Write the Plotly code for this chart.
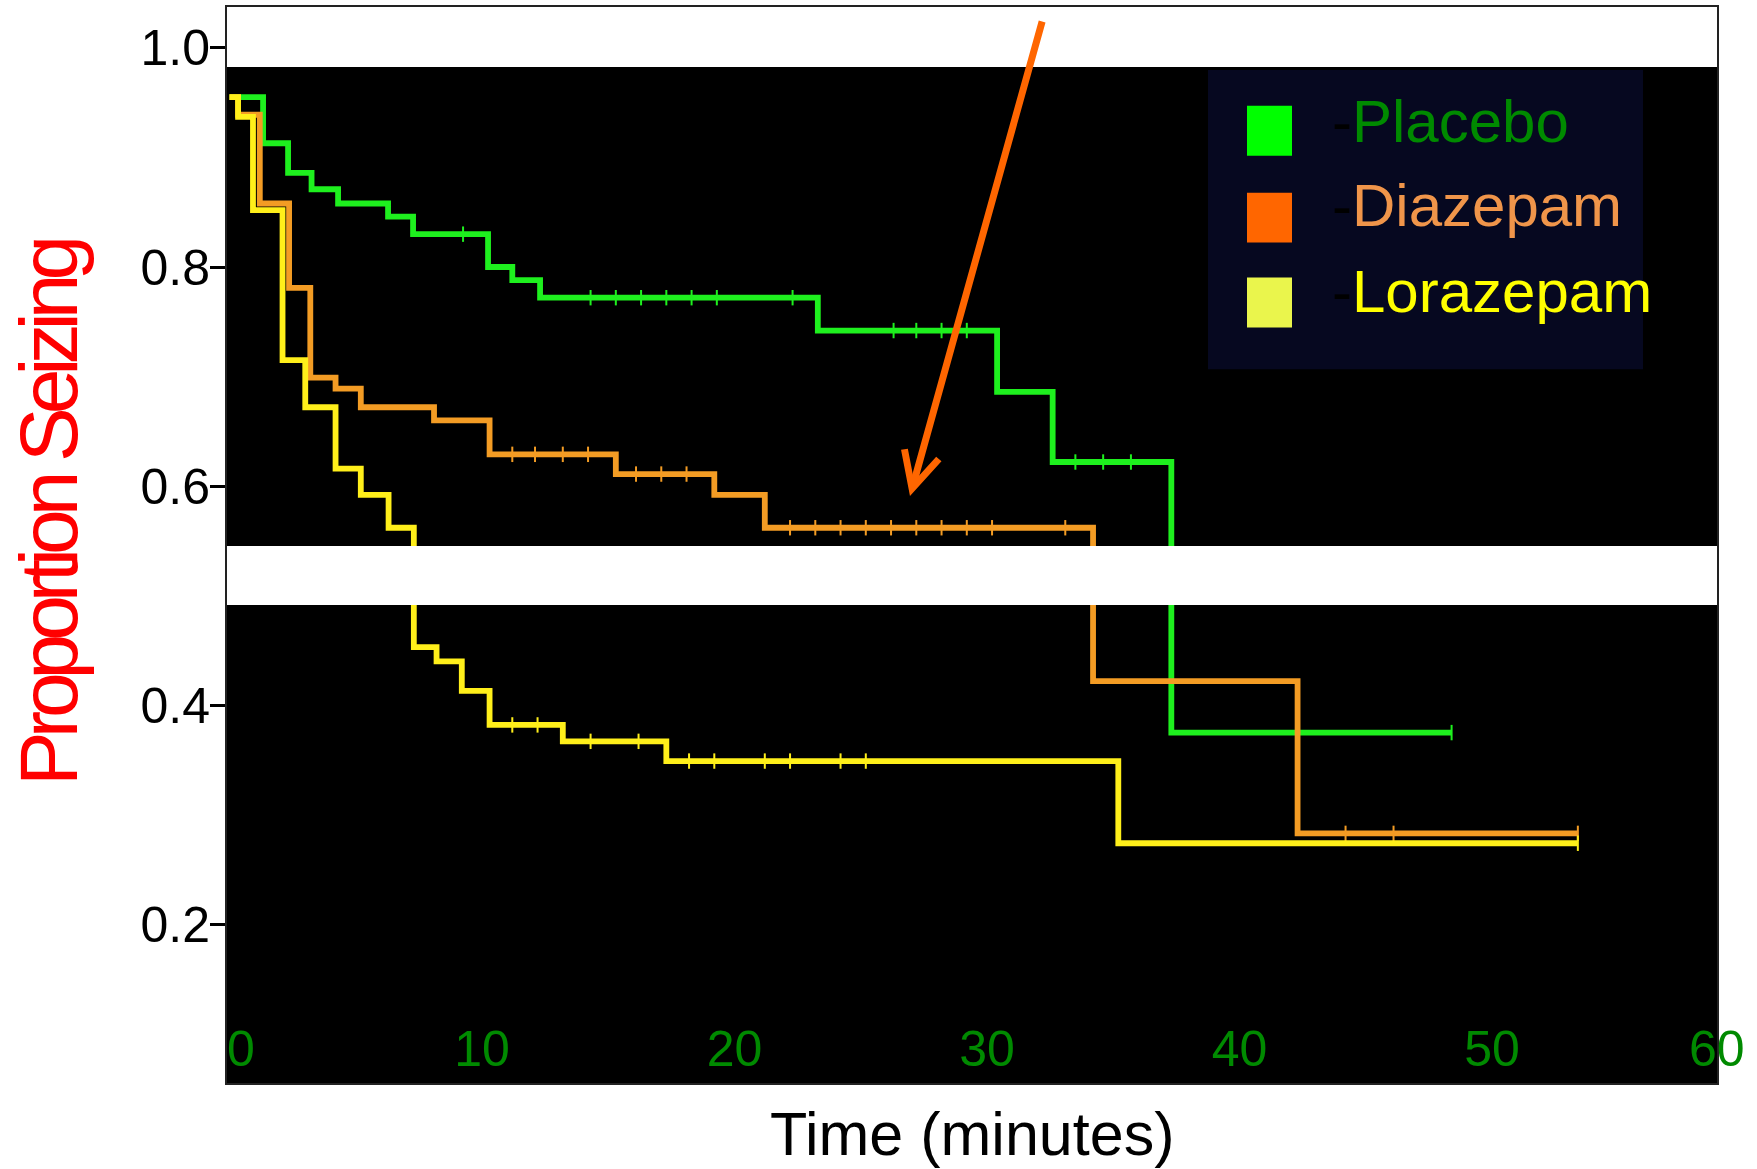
import numpy as np
import plotly.graph_objects as go

# ---------------- data ----------------
placebo_t = [0, 1.33, 2.32, 3.25, 4.3, 6.28, 7.27, 10.24, 11.2, 12.3, 23.3, 30.4, 32.6, 37.3]
placebo_s = [0.955, 0.913, 0.886, 0.871, 0.858, 0.846, 0.830, 0.800, 0.788, 0.772, 0.742, 0.686, 0.622, 0.375]
placebo_end = 48.4
placebo_cens = [9.25, 14.3, 15.3, 16.3, 17.3, 18.3, 19.3, 22.3, 26.3, 27.2, 28.2, 29.2,
                33.5, 34.6, 35.7, 48.4]

diazepam_t = [0, 0.34, 1.2, 2.36, 3.2, 4.2, 5.2, 8.1, 10.3, 15.3, 19.2, 21.2, 34.2, 42.3]
diazepam_s = [0.955, 0.939, 0.858, 0.781, 0.699, 0.689, 0.672, 0.660, 0.629, 0.611, 0.592, 0.562, 0.422, 0.283]
diazepam_end = 53.4
diazepam_cens = [11.2, 12.1, 13.2, 14.2, 16.1, 17.1, 18.1, 22.2, 23.2, 24.2, 25.2, 26.2, 27.2,
                 28.2, 29.2, 30.2, 33.1, 44.2, 46.1, 53.4]

lorazepam_t = [0, 0.34, 0.93, 2.1, 3.0, 4.2, 5.2, 6.3, 7.3, 8.2, 9.2, 10.3, 13.2, 17.3, 35.2]
lorazepam_s = [0.955, 0.937, 0.852, 0.715, 0.672, 0.616, 0.592, 0.562, 0.453, 0.440, 0.413, 0.382, 0.367, 0.349, 0.274]
lorazepam_end = 53.4
lorazepam_cens = [11.2, 12.2, 14.3, 16.2, 18.2, 19.2, 21.2, 22.2, 24.2, 25.2, 53.4]

group_names = ["Placebo", "Diazepam", "Lorazepam"]
y_tick_vals = [0.2, 0.4, 0.6, 0.8, 1.0]
y_tick_text = ["0.2", "0.4", "0.6", "0.8", "1.0"]
x_tick_text = ["0", "10", "20", "30", "40", "50", "60"]
x_tick_pos = [0.45, 10, 20, 30, 40, 50, 58.9]
arrow_tip = (26.95, 0.591)
arrow_tail = (32.2, 1.0255)

# ---------------- styling ----------------
line_colors = ["#1ef01e", "#f39c24", "#ffef1a"]
square_colors = ["#00ff00", "#ff6600", "#eaf54c"]
text_colors = ["#008a00", "#f0954a", "#ffff00"]
FONT = "Liberation Sans, Arial, sans-serif"

W, H = 1757, 1169
L, R, T, B = 227, 1717, 5, 1083


def px(x):
    return (x - L) / (R - L)


def py(y):
    return (B - y) / (B - T)


fig = go.Figure()

series = [
    (placebo_t, placebo_s, placebo_end, placebo_cens),
    (diazepam_t, diazepam_s, diazepam_end, diazepam_cens),
    (lorazepam_t, lorazepam_s, lorazepam_end, lorazepam_cens),
]

for (t, s, end, cens), col, name in zip(series, line_colors, group_names):
    xs = list(t) + [end]
    ys = list(s) + [s[-1]]
    fig.add_trace(go.Scatter(x=xs, y=ys, mode="lines", line=dict(color=col, width=5.8, shape="hv"),
                             name=name, showlegend=False, hoverinfo="skip"))
    idx = np.searchsorted(np.array(t), np.array(cens), side="right") - 1
    cy = [s[i] for i in idx]
    fig.add_trace(go.Scatter(x=cens, y=cy, mode="markers",
                             marker=dict(symbol="line-ns", size=11, line=dict(color=col, width=2)),
                             showlegend=False, hoverinfo="skip"))

shapes = []
# white bands
shapes.append(dict(type="rect", xref="paper", yref="paper", x0=0, x1=1, y0=py(65), y1=1,
                   fillcolor="white", line=dict(width=0), layer="above"))
shapes.append(dict(type="rect", xref="paper", yref="paper", x0=0.0, x1=1, y0=py(604), y1=py(545),
                   fillcolor="white", line=dict(width=0), layer="above"))
# legend box
shapes.append(dict(type="rect", xref="paper", yref="paper", x0=px(1208), x1=px(1643), y0=py(368), y1=py(68),
                   fillcolor="#060820", line=dict(width=0), layer="above"))
sq_tops = [104, 191, 276]
for top, col in zip(sq_tops, square_colors):
    shapes.append(dict(type="rect", xref="paper", yref="paper", x0=px(1247), x1=px(1292),
                       y0=py(top + 50), y1=py(top), fillcolor=col, line=dict(width=0), layer="above"))

annotations = []
text_centers = [120, 204, 290]
for name, tc, yc in zip(group_names, text_colors, text_centers):
    annotations.append(dict(xref="paper", yref="paper", x=px(1330), y=py(yc), xanchor="left", yanchor="middle",
                            text="<span style='color:#000000'>-</span>" + name, showarrow=False,
                            font=dict(family=FONT, size=60, color=tc)))

# arrow
annotations.append(dict(x=arrow_tip[0], y=arrow_tip[1], ax=arrow_tail[0], ay=arrow_tail[1],
                        xref="x", yref="y", axref="x", ayref="y", text="", showarrow=True,
                        arrowhead=5, arrowsize=1.0, arrowwidth=7, arrowcolor="#ff6600", standoff=0))

# axis titles
annotations.append(dict(xref="paper", yref="paper", x=0.5, y=py(1134), xanchor="center", yanchor="middle",
                        text="Time (minutes)", showarrow=False, font=dict(family=FONT, size=61, color="black")))
annotations.append(dict(xref="paper", yref="paper", x=px(48), y=py(512), xanchor="center", yanchor="middle",
                        text="<span style='letter-spacing:-7px'>Proportion Seizing</span>", textangle=-90,
                        showarrow=False, font=dict(family=FONT, size=82, color="#ff0000")))

fig.update_layout(
    width=W, height=H,
    margin=dict(l=L, r=W - R, t=T, b=H - B, pad=0),
    paper_bgcolor="white", plot_bgcolor="black",
    shapes=shapes, annotations=annotations, showlegend=False,
)

fig.update_xaxes(range=[(L - 229.5) / 25.25, (R - 229.5) / 25.25], tickvals=x_tick_pos, ticktext=x_tick_text,
                 ticklabelposition="inside", ticklabeloverflow="allow", ticks="", ticklabelstandoff=14,
                 showgrid=False, zeroline=False,
                 tickfont=dict(family=FONT, size=50, color="#008a00"),
                 showline=True, mirror=True, linecolor="#222222", linewidth=2)
y_top = 1 + (46 - T) / 1097.5
y_bot = 1 - (B - 46) / 1097.5
fig.update_yaxes(range=[y_bot, y_top], tickvals=y_tick_vals, ticktext=y_tick_text,
                 ticks="outside", ticklen=15, tickwidth=3, tickcolor="black", ticklabelstandoff=-10,
                 showgrid=False, zeroline=False,
                 tickfont=dict(family=FONT, size=50, color="black"),
                 showline=True, mirror=True, linecolor="#222222", linewidth=2)

fig.write_html("out.html", config={"displayModeBar": False},
               post_script="document.body.style.margin='0px';document.body.style.overflow='hidden';")
